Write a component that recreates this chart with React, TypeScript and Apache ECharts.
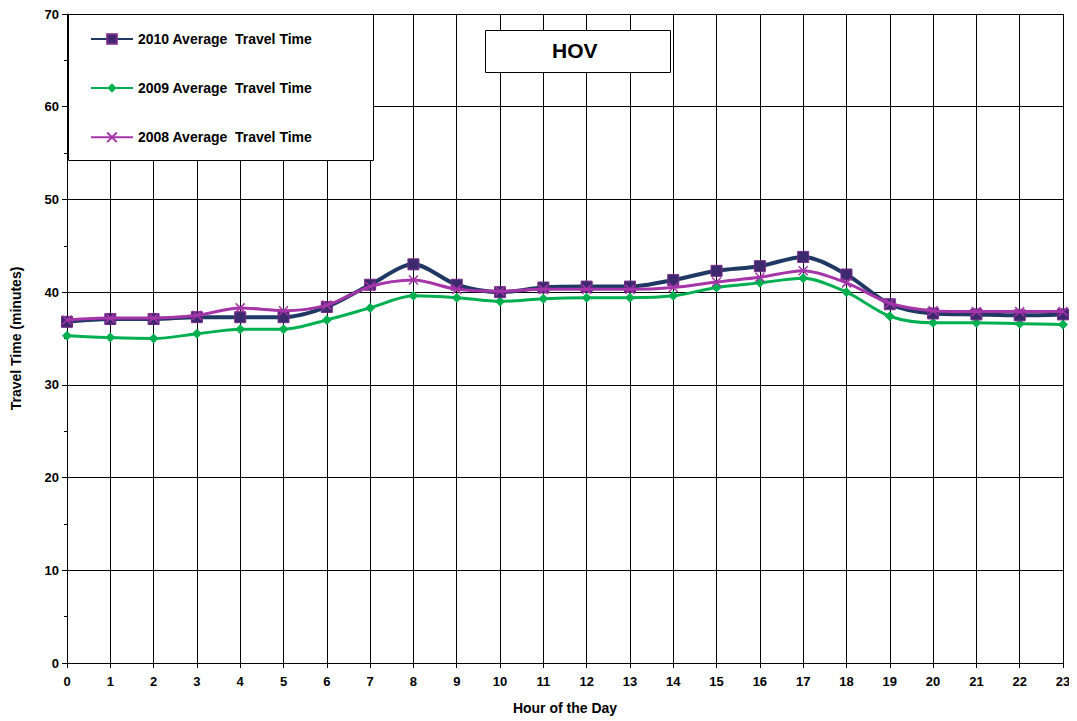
import React, { useEffect, useRef } from "react";
import * as echarts from "echarts";

const hours = Array.from({ length: 24 }, (_, i) => String(i));
const y2010 = [36.8, 37.1, 37.1, 37.3, 37.3, 37.3, 38.4, 40.8, 43.0, 40.8, 40.0, 40.5, 40.6, 40.6, 41.3, 42.3, 42.8, 43.8, 41.9, 38.7, 37.7, 37.6, 37.5, 37.6];
const y2009 = [35.3, 35.1, 35.0, 35.5, 36.0, 36.0, 37.0, 38.3, 39.6, 39.4, 39.0, 39.3, 39.4, 39.4, 39.6, 40.5, 41.0, 41.5, 40.0, 37.4, 36.7, 36.7, 36.6, 36.5];
const y2008 = [37.0, 37.2, 37.2, 37.5, 38.3, 38.0, 38.6, 40.6, 41.3, 40.3, 40.1, 40.3, 40.3, 40.3, 40.5, 41.1, 41.6, 42.3, 41.0, 38.8, 38.0, 37.9, 37.9, 37.9];

export default function App() {
  const ref = useRef<HTMLDivElement>(null);
  useEffect(() => {
    const chart = echarts.init(ref.current!, null, { renderer: "svg" });
    const font = { fontFamily: "Liberation Sans, Arial", fontWeight: "bold" as const, color: "#000" };
    chart.setOption({
      animation: false,
      grid: { left: 59, right: 6, top: 6, bottom: 58, containLabel: false, outerBoundsMode: "none" },
      legend: {
        orient: "vertical", left: 82, top: 24, padding: 0,
        itemGap: 35, itemWidth: 42, itemHeight: 12,
        textStyle: { ...font, fontSize: 14 },
        data: ["2010 Average  Travel Time", "2009 Average  Travel Time", "2008 Average  Travel Time"],
        z: 10,
      },
      graphic: [
        { type: "rect", left: 60, top: 6, z: 5, shape: { width: 305, height: 146 }, style: { fill: "#fff", stroke: "#000", lineWidth: 1 } },
        { type: "rect", left: 477, top: 22, z: 5, shape: { width: 185, height: 42 }, style: { fill: "#fff", stroke: "#000", lineWidth: 1 } },
        { type: "text", left: 544, top: 32, z: 6, style: { text: "HOV", font: "bold 21px Liberation Sans, Arial", fill: "#000" } },
      ],
      xAxis: {
        type: "category", data: hours, boundaryGap: false,
        name: "Hour of the Day", nameLocation: "middle", nameGap: 38,
        nameTextStyle: { ...font, fontSize: 14 },
        axisLine: { lineStyle: { color: "#000" } },
        axisTick: { lineStyle: { color: "#000" } },
        axisLabel: { ...font, fontSize: 13, margin: 12 },
        splitLine: { show: true, lineStyle: { color: "#000", width: 1 } },
      },
      yAxis: {
        type: "value", min: 0, max: 70, interval: 10,
        name: "Travel Time (minutes)", nameLocation: "middle", nameGap: 44,
        nameTextStyle: { ...font, fontSize: 14 },
        axisLine: { show: true, lineStyle: { color: "#000" } },
        axisTick: { show: true, lineStyle: { color: "#000" } },
        minorTick: { show: true, splitNumber: 2, length: 3, lineStyle: { color: "#000" } },
        axisLabel: { ...font, fontSize: 13 },
        splitLine: { show: true, lineStyle: { color: "#000", width: 1 } },
      },
      series: [
        { name: "2009 Average  Travel Time", type: "line", data: y2009, smooth: 0.3, symbol: "diamond", symbolSize: 10,
          lineStyle: { color: "#00b050", width: 3 }, itemStyle: { color: "#00b050" }, z: 2 },
        { name: "2010 Average  Travel Time", type: "line", data: y2010, smooth: 0.3, symbol: "rect", symbolSize: 11,
          lineStyle: { color: "#1f3864", width: 4 }, itemStyle: { color: "#3d2a6e", borderColor: "#7a2a8a", borderWidth: 1 }, z: 3 },
        { name: "2008 Average  Travel Time", type: "line", data: y2008, smooth: 0.3, symbol: "path://M0,0L10,10M10,0L0,10", symbolSize: 9,
          lineStyle: { color: "#a535a8", width: 3 }, itemStyle: { color: "none", borderColor: "#a535a8", borderWidth: 1.5 }, z: 4 },
      ],
    });
    return () => chart.dispose();
  }, []);
  return <div ref={ref} style={{ width: 1061, height: 713 }} />;
}
